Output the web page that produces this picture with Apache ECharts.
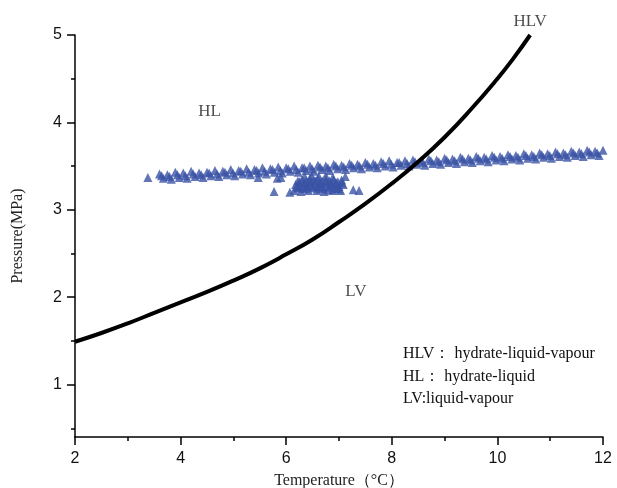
<!DOCTYPE html>
<html>
<head>
<meta charset="utf-8">
<script src="https://cdn.jsdelivr.net/npm/echarts@6/dist/echarts.min.js"></script>
<style>
  html, body { margin: 0; padding: 0; background: #fff; }
  #chart { width: 617px; height: 488px; }
</style>
</head>
<body>
<div id="chart"></div>
<script>
// Hydrate equilibrium curve (HLV boundary): temperature (°C) vs pressure (MPa)
const curveT = [2, 2.5, 3, 3.5, 4, 4.5, 5, 5.5, 6, 6.5, 7, 7.5, 8, 8.5, 9, 9.5, 10, 10.3, 10.62];
const curveP = [1.49, 1.59, 1.70, 1.82, 1.94, 2.06, 2.19, 2.33, 2.49, 2.66, 2.86, 3.07, 3.30, 3.55, 3.83, 4.15, 4.50, 4.73, 5.0];

// Measured operating points, upper part of the main band
const bandUpperT = [3.60, 3.75, 3.90, 4.05, 4.20, 4.35, 4.50, 4.65, 4.80, 4.95, 5.10, 5.25, 5.40, 5.55, 5.70, 5.85,
  6.00, 6.15, 6.30, 6.45, 6.60, 6.75, 6.90, 7.05, 7.20, 7.35, 7.50, 7.65, 7.80, 7.95, 8.10, 8.25, 8.40, 8.55,
  8.70, 8.85, 9.00, 9.15, 9.30, 9.45, 9.60, 9.75, 9.90, 10.05, 10.20, 10.35, 10.50, 10.65, 10.80, 10.95,
  11.10, 11.25, 11.40, 11.55, 11.70, 11.85, 12.00];
const bandUpperP = [3.41, 3.40, 3.43, 3.42, 3.44, 3.42, 3.43, 3.45, 3.44, 3.46, 3.45, 3.47, 3.46, 3.48, 3.47, 3.49,
  3.48, 3.50, 3.48, 3.50, 3.51, 3.50, 3.52, 3.51, 3.53, 3.52, 3.54, 3.53, 3.55, 3.56, 3.54, 3.56, 3.57, 3.56,
  3.58, 3.57, 3.59, 3.58, 3.60, 3.59, 3.61, 3.60, 3.62, 3.61, 3.63, 3.62, 3.64, 3.63, 3.65, 3.64,
  3.66, 3.65, 3.67, 3.66, 3.68, 3.67, 3.68];

// Measured operating points, middle of the main band
const bandMidT = [3.64, 3.79, 3.94, 4.09, 4.24, 4.39, 4.54, 4.69,
  4.84, 4.99, 5.14, 5.29, 5.44, 5.59, 5.74, 5.89,
  6.04, 6.19, 6.34, 6.49, 6.64, 6.79, 6.94, 7.09,
  7.24, 7.39, 7.54, 7.69, 7.84, 7.99, 8.14, 8.29,
  8.44, 8.59, 8.74, 8.89, 9.04, 9.19, 9.34, 9.49,
  9.64, 9.79, 9.94, 10.09, 10.24, 10.39, 10.54, 10.69,
  10.84, 10.99, 11.14, 11.29, 11.44, 11.59, 11.74, 11.89];
const bandMidP = [3.39, 3.38, 3.40, 3.39, 3.41, 3.40, 3.42, 3.41,
  3.43, 3.42, 3.44, 3.43, 3.45, 3.44, 3.46, 3.45,
  3.47, 3.46, 3.48, 3.47, 3.49, 3.48, 3.50, 3.49,
  3.51, 3.50, 3.52, 3.51, 3.53, 3.52, 3.54, 3.53,
  3.55, 3.54, 3.56, 3.55, 3.57, 3.56, 3.58, 3.57,
  3.59, 3.58, 3.60, 3.59, 3.61, 3.60, 3.62, 3.61,
  3.63, 3.62, 3.64, 3.63, 3.65, 3.64, 3.66, 3.65];

// Measured operating points, lower part of the main band
const bandLowerT = [3.675, 3.825, 3.975, 4.125, 4.275, 4.425, 4.575, 4.725, 4.875, 5.025, 5.175, 5.325, 5.475,
  5.625, 5.775, 5.925, 6.075, 6.225, 6.375, 6.525, 6.675, 6.825, 6.975, 7.125, 7.275, 7.425, 7.575, 7.725,
  7.875, 8.025, 8.175, 8.325, 8.475, 8.625, 8.775, 8.925, 9.075, 9.225, 9.375, 9.525, 9.675, 9.825, 9.975,
  10.125, 10.275, 10.425, 10.575, 10.725, 10.875, 11.025, 11.175, 11.325, 11.475, 11.625, 11.775, 11.925];
const bandLowerP = [3.36, 3.35, 3.37, 3.36, 3.38, 3.37, 3.39, 3.38, 3.40, 3.39, 3.41, 3.40, 3.42,
  3.41, 3.43, 3.42, 3.44, 3.43, 3.45, 3.44, 3.46, 3.45, 3.47, 3.46, 3.48, 3.47, 3.49, 3.48,
  3.50, 3.49, 3.51, 3.50, 3.52, 3.51, 3.53, 3.52, 3.54, 3.53, 3.55, 3.54, 3.56, 3.55, 3.57,
  3.56, 3.58, 3.57, 3.59, 3.58, 3.60, 3.59, 3.61, 3.60, 3.62, 3.61, 3.63, 3.62];

// Secondary cluster of lower-pressure points and scattered outliers
const clusterT = [6.15, 6.22, 6.28, 6.35, 6.42, 6.50, 6.58, 6.65, 6.72, 6.80, 6.88, 6.95, 7.03,
  6.20, 6.30, 6.40, 6.50, 6.60, 6.70, 6.80, 6.90, 7.00,
  6.18, 6.25, 6.32, 6.40, 6.47, 6.55, 6.62, 6.70, 6.78, 6.85, 6.92, 7.00, 7.08,
  6.25, 6.35, 6.45, 6.55, 6.65, 6.75, 6.85, 6.95, 7.05,
  6.22, 6.30, 6.38, 6.45, 6.52, 6.60, 6.68, 6.75, 6.82, 6.90, 6.98, 7.05,
  6.35, 6.48, 6.62, 6.75, 6.88, 7.12,
  3.38, 5.47, 5.83, 5.90, 5.77, 6.07, 7.27, 7.38];
const clusterP = [3.22, 3.25, 3.21, 3.24, 3.22, 3.25, 3.22, 3.24, 3.21, 3.23, 3.22, 3.24, 3.22,
  3.26, 3.25, 3.26, 3.27, 3.26, 3.25, 3.26, 3.25, 3.24,
  3.29, 3.27, 3.30, 3.28, 3.31, 3.28, 3.30, 3.27, 3.30, 3.28, 3.29, 3.27, 3.29,
  3.32, 3.31, 3.32, 3.33, 3.31, 3.32, 3.31, 3.31, 3.31,
  3.33, 3.35, 3.33, 3.36, 3.34, 3.36, 3.33, 3.35, 3.33, 3.35, 3.32, 3.34,
  3.38, 3.39, 3.38, 3.39, 3.37, 3.38,
  3.37, 3.37, 3.36, 3.37, 3.21, 3.20, 3.23, 3.22];

// Region names placed at their (T, P) positions
const regionNames = ['HL', 'LV', 'HLV'];
const regionT = [4.55, 7.32, 10.62];
const regionP = [4.12, 2.07, 5.15];

// Axis tick values
const xTicks = [2, 4, 6, 8, 10, 12];
const yMajorTicks = [1, 2, 3, 4, 5];
const yMinorTicks = [0.5, 1.5, 2.5, 3.5, 4.5];

// Key describing the region abbreviations
const keyLines = ['HLV\uff1a hydrate-liquid-vapour', 'HL\uff1a hydrate-liquid', 'LV:liquid-vapour'];

const zip = (a, b) => a.map((v, i) => [v, b[i]]);
const pointColor = '#3953a5';
const serif = '"Liberation Serif", "Times New Roman", serif';
const sans = '"Liberation Sans", Arial, sans-serif';

const pointSeries = (name, t, p) => ({
  name,
  type: 'scatter',
  data: zip(t, p),
  symbol: 'triangle',
  symbolSize: 9,
  itemStyle: { color: pointColor },
  z: 2
});

const chart = echarts.init(document.getElementById('chart'), null, { renderer: 'canvas' });

chart.setOption({
  backgroundColor: '#fff',
  animation: false,
  grid: { left: 75, right: 14, top: 35, bottom: 51, containLabel: false, outerBoundsMode: 'none' },
  xAxis: {
    type: 'value',
    min: xTicks[0],
    max: xTicks[xTicks.length - 1],
    interval: 2,
    name: 'Temperature\uff08\u00b0C\uff09',
    nameLocation: 'middle',
    nameGap: 36,
    nameTextStyle: { fontFamily: serif, fontSize: 16, color: '#222' },
    axisLine: { lineStyle: { color: '#000', width: 1.5 } },
    axisTick: { show: true, inside: false, length: 8, lineStyle: { color: '#000', width: 1.5 } },
    minorTick: { show: true, splitNumber: 2, length: 4, lineStyle: { color: '#000', width: 1.5 } },
    axisLabel: { fontFamily: sans, fontSize: 16, color: '#111', margin: 14 },
    splitLine: { show: false },
    minorSplitLine: { show: false }
  },
  yAxis: [
    {
      type: 'value',
      min: 0.4,
      max: 5,
      name: 'Pressure(MPa)',
      nameLocation: 'middle',
      nameGap: 49,
      nameRotate: 90,
      nameTextStyle: { fontFamily: serif, fontSize: 16, color: '#222', padding: [0, 0, 0, 0] },
      axisLine: { show: true, lineStyle: { color: '#000', width: 1.5 } },
      axisTick: { show: true, inside: false, length: 8, customValues: yMajorTicks,
        lineStyle: { color: '#000', width: 1.5 } },
      axisLabel: { fontFamily: sans, fontSize: 16, color: '#111', margin: 13, customValues: yMajorTicks },
      splitLine: { show: false }
    },
    {
      type: 'value',
      min: 0.4,
      max: 5,
      position: 'left',
      axisLine: { show: false },
      axisTick: { show: true, inside: false, length: 4, customValues: yMinorTicks,
        lineStyle: { color: '#000', width: 1.5 } },
      axisLabel: { show: false },
      splitLine: { show: false }
    }
  ],
  series: [
    pointSeries('band-upper', bandUpperT, bandUpperP),
    pointSeries('band-middle', bandMidT, bandMidP),
    pointSeries('band-lower', bandLowerT, bandLowerP),
    pointSeries('cluster', clusterT, clusterP),
    {
      name: 'HLV curve',
      type: 'line',
      data: zip(curveT, curveP),
      smooth: true,
      showSymbol: false,
      symbol: 'none',
      lineStyle: { color: '#000', width: 4 },
      z: 3
    },
    {
      name: 'regions',
      type: 'scatter',
      data: regionNames.map((n, i) => ({ name: n, value: [regionT[i], regionP[i]] })),
      symbolSize: 0,
      clip: false,
      silent: true,
      label: {
        show: true,
        position: 'inside',
        formatter: p => p.name,
        fontFamily: serif,
        fontSize: 17,
        color: '#222'
      },
      z: 4
    }
  ],
  graphic: keyLines.map((t, i) => ({
    type: 'text',
    left: 403,
    top: 346 + i * 22.5,
    style: { text: t, font: '16px ' + serif, fill: '#111' }
  }))
});
</script>
</body>
</html>
